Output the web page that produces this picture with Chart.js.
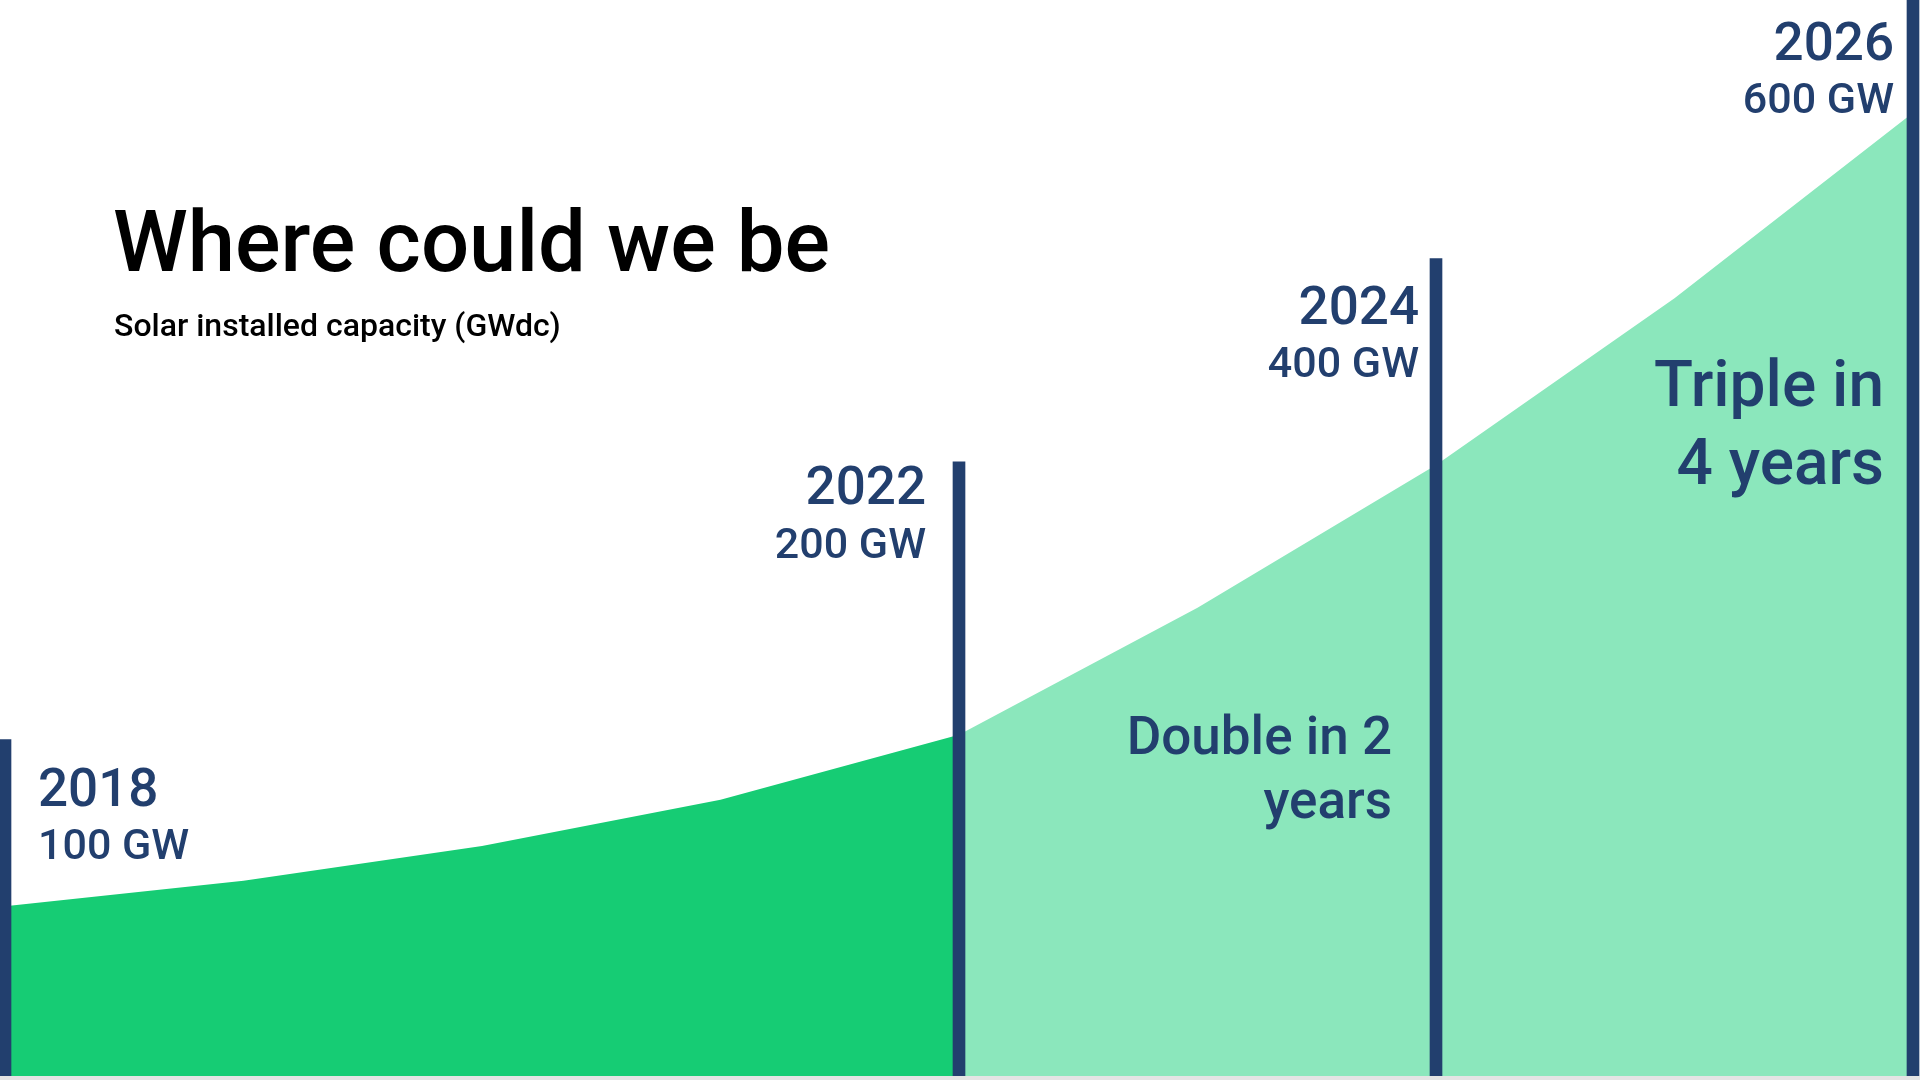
<!DOCTYPE html>
<html>
<head>
<meta charset="utf-8">
<title>Where could we be</title>
<script src="https://cdn.jsdelivr.net/npm/chart.js@4.4.1/dist/chart.umd.min.js"></script>
<style>
  html, body { margin: 0; padding: 0; background: #e4e4e4; }
  #page { position: relative; width: 1920px; height: 1080px; overflow: hidden; }
  #wrap { position: absolute; left: 0; top: 0; width: 1920px; height: 1076px; background: #fff; }
  .title { position: absolute; left: 113px; top: 200px; margin: 0; font: 500 85px Roboto, "Noto Sans", sans-serif; color: #000; line-height: 1; }
  .subtitle { position: absolute; left: 114px; top: 309px; margin: 0; font: 500 32px Roboto, "Noto Sans", sans-serif; color: #000; line-height: 1; }
</style>
</head>
<body>
<div id="page">
  <div id="wrap"><canvas id="solarChart"></canvas></div>
  <h1 class="title">Where could we be</h1>
  <p class="subtitle">Solar installed capacity (GWdc)</p>
</div>
<script>
// data
const years = ['2018', '2019', '2020', '2021', '2022', '2023', '2024', '2025', '2026'];
const capacityGW = [100, 116, 138, 167, 208, 288, 378, 483, 600];
const splitYear = '2022';

const milestoneYears = ['2018', '2022', '2024', '2026'];
const milestoneLabels = ['100 GW', '200 GW', '400 GW', '600 GW'];
const milestoneBarTops = [205, 380, 508, 671];

const calloutTexts = [['Double in 2', 'years'], ['Triple in', '4 years']];
const calloutYears = ['2024', '2026'];

const yMin = -7;
const yMax = 671;

// colours
const NAVY = '#223f6e';
const GREEN = '#16cc74';
const LIGHT_GREEN = '#8be7bc';
const FONT = 'Roboto, "Noto Sans", sans-serif';

const splitIdx = years.indexOf(splitYear);
const history = capacityGW.map((v, i) => i <= splitIdx ? v : null);
const projection = capacityGW.map((v, i) => i >= splitIdx ? v : null);
const milestoneBars = years.map(y => {
  const k = milestoneYears.indexOf(y);
  return k >= 0 ? [yMin, milestoneBarTops[k]] : null;
});

// label placement, offsets from the year's x pixel
const milestoneLayout = [
  { dx: 33, align: 'left', yearY: 806, gwY: 859 },
  { dx: -33, align: 'right', yearY: 504, gwY: 558 },
  { dx: -17, align: 'right', yearY: 324, gwY: 377 },
  { dx: -19, align: 'right', yearY: 60, gwY: 113 }
];
const calloutLayout = [
  { dx: -44, y: 754, lineH: 64, size: 53 },
  { dx: -29, y: 406, lineH: 78, size: 64 }
];

const labelsPlugin = {
  id: 'milestoneLabels',
  afterDatasetsDraw(chart) {
    const ctx = chart.ctx;
    const x = chart.scales.x;
    ctx.save();
    ctx.fillStyle = NAVY;
    ctx.textBaseline = 'alphabetic';
    milestoneYears.forEach((yr, k) => {
      const lay = milestoneLayout[k];
      const px = x.getPixelForValue(years.indexOf(yr)) + lay.dx;
      ctx.textAlign = lay.align;
      ctx.font = '500 53px ' + FONT;
      ctx.fillText(yr, px, lay.yearY);
      ctx.font = '500 43px ' + FONT;
      ctx.fillText(milestoneLabels[k], px, lay.gwY);
    });
    calloutYears.forEach((yr, k) => {
      const lay = calloutLayout[k];
      const px = x.getPixelForValue(years.indexOf(yr)) + lay.dx;
      ctx.textAlign = 'right';
      ctx.font = '500 ' + lay.size + 'px ' + FONT;
      calloutTexts[k].forEach((line, j) => ctx.fillText(line, px, lay.y + j * lay.lineH));
    });
    ctx.restore();
  }
};

new Chart(document.getElementById('solarChart'), {
  data: {
    labels: years,
    datasets: [
      {
        type: 'bar',
        label: 'Milestones',
        data: milestoneBars,
        backgroundColor: NAVY,
        barThickness: 12,
        clip: false,
        order: 0
      },
      {
        type: 'line',
        label: 'Installed',
        data: history,
        borderWidth: 0,
        pointRadius: 0,
        tension: 0,
        fill: 'start',
        backgroundColor: GREEN,
        order: 1
      },
      {
        type: 'line',
        label: 'Projection',
        data: projection,
        borderWidth: 0,
        pointRadius: 0,
        tension: 0,
        fill: 'start',
        backgroundColor: LIGHT_GREEN,
        order: 2
      }
    ]
  },
  options: {
    responsive: true,
    maintainAspectRatio: false,
    animation: false,
    layout: { padding: { left: 5, right: 7, top: 0, bottom: 0 } },
    plugins: { legend: { display: false }, tooltip: { enabled: false } },
    scales: {
      x: { type: 'category', display: false, offset: false, stacked: false },
      y: { display: false, min: yMin, max: yMax }
    }
  },
  plugins: [labelsPlugin]
});
</script>
</body>
</html>
